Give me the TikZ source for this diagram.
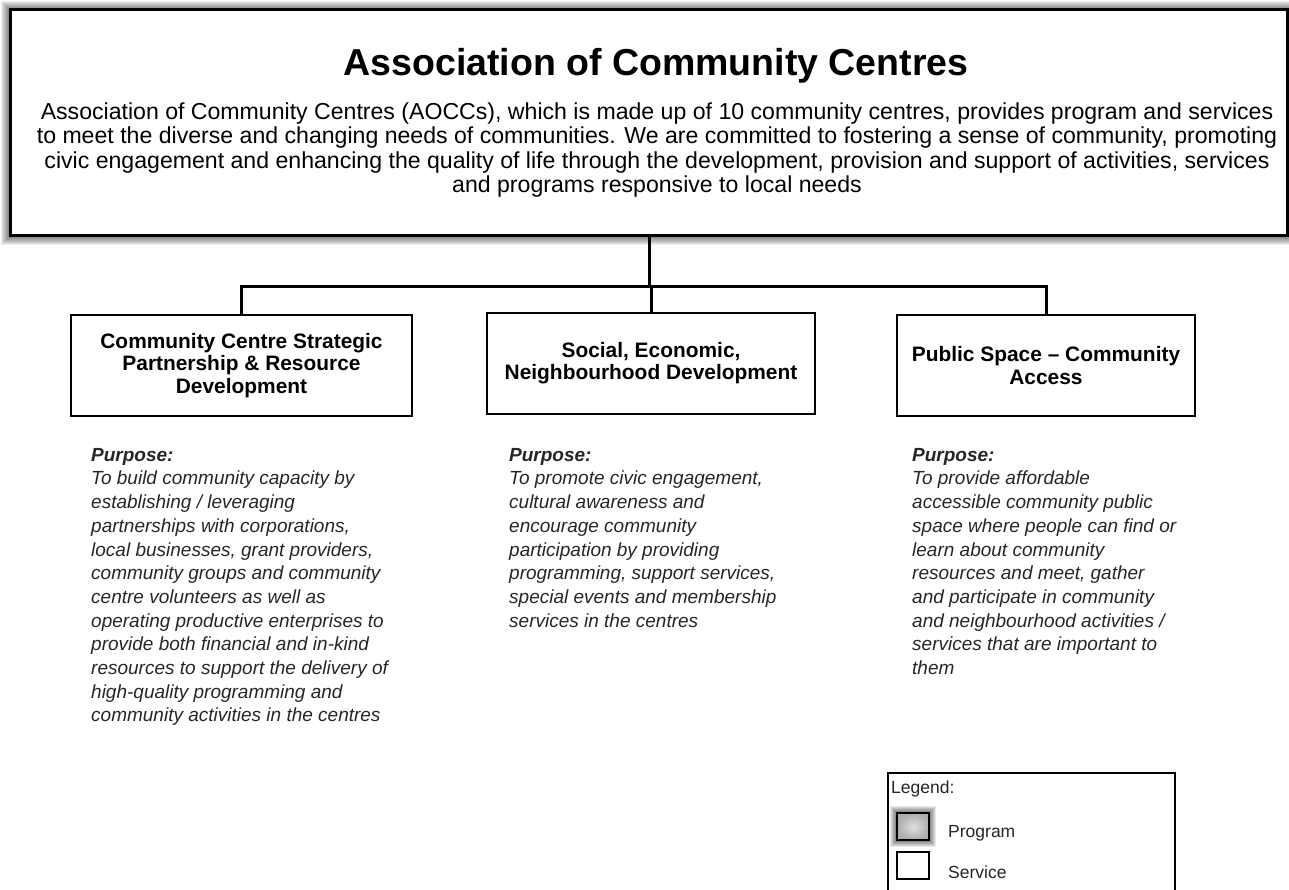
\documentclass[tikz,border=0pt]{standalone}
\usepackage{fontspec}
\setmainfont{Liberation Sans}
\usetikzlibrary{backgrounds}
\begin{document}
\begin{tikzpicture}[x=1pt,y=-1pt,
  progbox/.style={draw=black,line width=3pt,fill=white,rectangle,inner sep=0pt},
  servbox/.style={draw=black,line width=2.6pt,fill=white,rectangle,inner sep=0pt,
    align=center,font=\fontsize{20.9}{22.2}\selectfont\bfseries},
  link/.style={draw=black,line width=3pt},
  purpose/.style={anchor=north west,inner sep=0pt,align=left,text=black!85,
    font=\fontsize{19}{23.7}\selectfont\itshape},
  legtext/.style={anchor=west,inner sep=0pt,font=\fontsize{17.5}{19}\selectfont,text=black!85}]
\useasboundingbox (0,0) rectangle (1289,890);
\clip (0,0) rectangle (1289,890);

% main heading box with soft grey glow
\foreach \k in {9,8,...,1}
  \fill[black,opacity=0.07] (10-\k,10-\k) rectangle (1287+\k,236+\k);
\node[progbox,minimum width=1277,minimum height=226] (top) at (648.5,123) {};
\node[inner sep=0pt,font=\fontsize{37.5}{40}\selectfont\bfseries] (title) at (656,66)
  {Association of Community Centres};
\node[inner sep=0pt,align=center,font=\fontsize{23.1}{24.6}\selectfont] (desc) at (657,150)
  {Association of Community Centres (AOCCs), which is made up of 10 community centres, provides program and services\\
   to meet the diverse and changing needs of communities. We are committed to fostering a sense of community, promoting\\
   civic engagement and enhancing the quality of life through the development, provision and support of activities, services\\
   and programs responsive to local needs};

% three service areas
\node[servbox,minimum width=341,minimum height=101] (b1) at (241.5,365.5)
  {Community Centre Strategic\\Partnership \& Resource\\Development};
\node[servbox,minimum width=328,minimum height=101] (b2) at (651,363.5)
  {Social, Economic,\\Neighbourhood Development};
\node[servbox,minimum width=298,minimum height=101] (b3) at (1046,365.5)
  {Public Space -- Community\\Access};

% org-chart connectors
\coordinate (hub) at (649,287);
\draw[link] (top.south -| hub) -- (hub);
\draw[link] (b1.north) |- (hub) -| (b3.north);
\draw[link] (b2.north) -- (b2.north |- hub);

% purpose statements
\node[purpose] (p1) at (91,448)
  {{\bfseries Purpose:}\\
   To build community capacity by\\
   establishing / leveraging\\
   partnerships with corporations,\\
   local businesses, grant providers,\\
   community groups and community\\
   centre volunteers as well as\\
   operating productive enterprises to\\
   provide both financial and in-kind\\
   resources to support the delivery of\\
   high-quality programming and\\
   community activities in the centres};
\node[purpose] (p2) at (509,448)
  {{\bfseries Purpose:}\\
   To promote civic engagement,\\
   cultural awareness and\\
   encourage community\\
   participation by providing\\
   programming, support services,\\
   special events and membership\\
   services in the centres};
\node[purpose] (p3) at (912,448)
  {{\bfseries Purpose:}\\
   To provide affordable\\
   accessible community public\\
   space where people can find or\\
   learn about community\\
   resources and meet, gather\\
   and participate in community\\
   and neighbourhood activities /\\
   services that are important to\\
   them};

% legend
\node[draw=black,line width=2pt,fill=white,minimum width=287,minimum height=140,inner sep=0pt] (leg) at (1031.5,843) {};
\node[legtext] (legtitle) at (891,789) {Legend:};
\foreach \k in {7,6,...,1}
  \fill[black,opacity=0.09] (897-\k,813-\k) rectangle (929+\k,840+\k);
\node[draw=black,line width=2.5pt,minimum width=32,minimum height=27,inner sep=0pt,
  inner color=gray!25,outer color=gray!65] (progsq) at (913,826.5) {};
\node[legtext] (proglbl) at (948,833) {Program};
\node[draw=black,line width=2.5pt,fill=white,minimum width=32,minimum height=27,inner sep=0pt] (servsq) at (913,865.5) {};
\node[legtext] (servlbl) at (948,872) {Service};
\end{tikzpicture}
\end{document}
